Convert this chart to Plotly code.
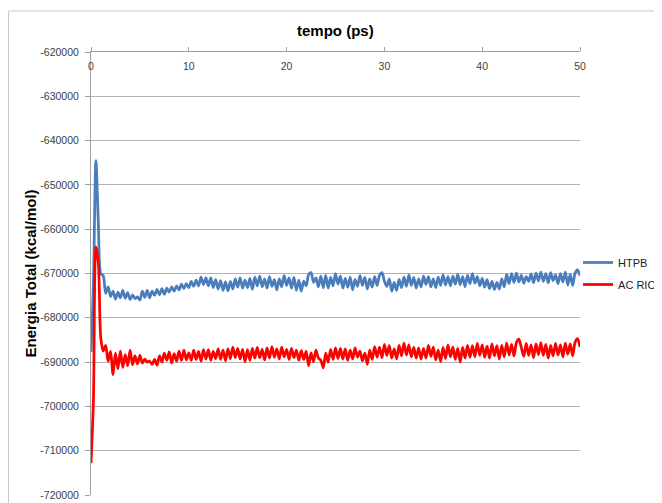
import plotly.graph_objects as go

# Time step of the sampled series (ps)
dt = 0.25

htpb = [
    -687700, -672000, -644500, -658500, -670000, -670500, -674500, -673000,
    -675200, -674000, -675800, -674200, -675500, -673800, -675600, -674300,
    -675900, -674800, -675700, -675300, -676000, -674000, -675400, -673800,
    -675500, -674000, -674900, -673600, -674800, -673400, -674700, -673300,
    -674200, -673000, -674000, -672800, -673700, -672400, -673400, -672300,
    -673200, -671800, -672900, -671500, -672800, -670800, -672500, -671000,
    -672800, -671000, -673200, -671400, -673500, -671600, -673800, -671900,
    -673900, -671800, -673500, -671200, -673100, -671000, -673300, -671500,
    -673200, -671100, -673600, -670800, -672800, -670600, -673000, -671200,
    -673300, -670700, -672900, -671400, -673700, -671200, -673000, -670400,
    -672700, -671000, -673300, -670900, -673800, -671500, -674000, -671700,
    -672800, -670200, -669800, -672000, -671000, -673000, -670600, -673200,
    -670400, -673300, -670900, -672800, -670000, -672400, -670600, -673300,
    -671100, -673100, -670800, -673700, -671300, -672900, -670500, -672700,
    -670900, -673500, -671200, -673100, -670700, -672700, -670400, -669800,
    -671700, -672900, -671200, -674000, -672000, -673800, -671300, -673200,
    -670800, -672900, -670300, -672700, -670900, -673300, -671200, -673000,
    -670600, -672500, -670700, -673000, -671200, -673200, -670800, -672700,
    -670300, -672600, -670700, -672800, -670600, -672400, -670200, -672500,
    -670700, -673000, -670400, -672300, -670000, -672200, -670700, -672800,
    -671100, -673100, -671400, -673400, -671800, -673600, -672000, -673500,
    -671200, -673000, -670200, -672300, -670000, -672000, -669900, -671900,
    -670400, -672200, -670700, -671800, -670100, -672100, -669900, -671700,
    -669700, -671800, -670000, -672100, -669800, -671600, -670300, -672300,
    -670000, -671900, -669700, -672600, -670200, -672700, -669900, -669200,
    -670500,
]

ac_ric = [
    -712800, -698500, -664000, -667500, -684500, -687500, -686200, -689800,
    -687600, -692800, -688000, -691500, -687500, -691200, -688300, -690800,
    -687300, -690600, -688600, -690400, -688500, -690200, -689300, -690000,
    -689800, -690500, -689400, -690700, -688600, -690000, -688000, -689600,
    -687700, -690200, -688100, -689800, -687500, -689600, -687300, -689500,
    -687900, -689600, -687300, -689400, -687600, -689800, -687200, -689300,
    -687200, -689600, -687600, -689200, -687000, -689400, -687300, -689700,
    -687000, -689200, -686600, -689000, -686900, -689300, -687100, -689900,
    -687200, -689600, -686900, -689100, -686700, -689000, -687100, -689500,
    -686800, -689100, -686500, -688900, -687000, -689300, -686600, -688800,
    -687100, -689400, -686900, -689000, -687300, -689600, -687400, -689400,
    -687600, -690800, -687900, -689900, -687300, -689100, -689600, -691300,
    -688000, -690000, -687100, -689400, -686800, -689200, -686900, -689300,
    -687000, -689600, -687300, -689300, -686800, -688900, -687500, -689700,
    -688000, -690500, -687300, -689400, -686500, -688900, -686600, -689000,
    -686000, -688500, -686300, -689100, -687000, -689300, -686200, -688600,
    -685700, -688400, -686100, -688800, -686700, -689100, -686800, -689300,
    -686900, -689100, -686200, -688700, -686600, -689500, -687300, -689900,
    -686700, -689200, -686100, -688800, -686600, -689400, -686900, -690000,
    -686700, -689100, -686200, -688900, -686300, -688800, -685800, -688500,
    -686100, -688900, -686400, -689100, -685900, -688600, -686300, -689300,
    -686200, -688800, -685700, -688400, -686000, -688600, -685600, -684800,
    -686700, -688700, -685800, -688500, -686100, -689000, -685900, -688300,
    -685600, -688500, -686000, -689100, -686200, -688600, -685800, -688400,
    -686100, -688800, -685700, -688200, -685900, -688600, -685500, -684700,
    -686600,
]

series_names = ["HTPB", "AC RIC"]
x_ticks = [0, 10, 20, 30, 40, 50]
y_ticks = [-620000, -630000, -640000, -650000, -660000, -670000,
           -680000, -690000, -700000, -710000, -720000]

t_htpb = [i * dt for i in range(len(htpb))]
t_ac = [i * dt for i in range(len(ac_ric))]

FONT = "Liberation Sans, Arial, sans-serif"
TXT = "#404040"

fig = go.Figure()
fig.add_trace(go.Scatter(x=t_htpb, y=htpb, mode="lines", name=series_names[0],
                         line=dict(color="#4a7ebb", width=2.75, shape="spline",
                                   smoothing=0.8),
                         legendgroup="a"))
fig.add_trace(go.Scatter(x=t_ac, y=ac_ric, mode="lines", name=series_names[1],
                         line=dict(color="#ff0000", width=2.75, shape="spline",
                                   smoothing=0.8),
                         legendgroup="b"))

# The page places the figure 8 px from the top-left corner of the window.
fig.update_layout(
    width=654, height=495,
    margin=dict(l=83, r=82, t=44, b=8, autoexpand=False),
    paper_bgcolor="white", plot_bgcolor="white",
    font=dict(family=FONT, size=10.5, color=TXT),
    showlegend=True,
    legend=dict(x=0.996, y=0.50, xanchor="left", yanchor="middle",
                bgcolor="rgba(0,0,0,0)", borderwidth=0,
                font=dict(family=FONT, size=11, color="#222"),
                tracegroupgap=3, itemwidth=30),
    xaxis=dict(range=[0, 50], side="top", tickvals=x_ticks,
               ticktext=[str(v) for v in x_ticks],
               ticklabelposition="inside", ticklabeloverflow="allow",
               ticklabelstandoff=10,
               ticks="outside", ticklen=4,
               tickcolor="#a0a0a0", showline=True, linecolor="#a0a0a0",
               linewidth=1, showgrid=False, zeroline=False,
               tickfont=dict(family=FONT, size=10.5, color=TXT)),
    yaxis=dict(range=[-720000, -620000], tickvals=y_ticks,
               ticktext=[str(v) for v in y_ticks],
               ticklabeloverflow="allow", ticklabelstandoff=4,
               ticks="outside", ticklen=5, tickcolor="#a0a0a0",
               showline=True, linecolor="#a0a0a0", linewidth=1,
               showgrid=True, gridcolor="#b3b3b3", gridwidth=1,
               zeroline=False,
               tickfont=dict(family=FONT, size=10.5, color=TXT)),
)

fig.add_annotation(text="<b>tempo (ps)</b>", xref="paper", yref="paper",
                   x=0.5, y=(495 - 30) / 443, xanchor="center", yanchor="middle",
                   showarrow=False, font=dict(family=FONT, size=15, color="#000"))
fig.add_annotation(text="<b>Energia Total (kcal/mol)</b>", xref="paper", yref="paper",
                   x=(30 - 91) / 489, y=0.5, xanchor="center", yanchor="middle",
                   textangle=-90, showarrow=False,
                   font=dict(family=FONT, size=15, color="#000"))

# Outer chart border (Excel chart area)
fig.add_shape(type="rect", xref="paper", yref="paper",
              x0=(8.5 - 91) / 489, x1=(700 - 91) / 489,
              y0=(495 - 540) / 443, y1=(495 - 11) / 443,
              line=dict(color="#c8c8c8", width=1), fillcolor="rgba(0,0,0,0)",
              layer="below")

fig.write_html("out.html")
